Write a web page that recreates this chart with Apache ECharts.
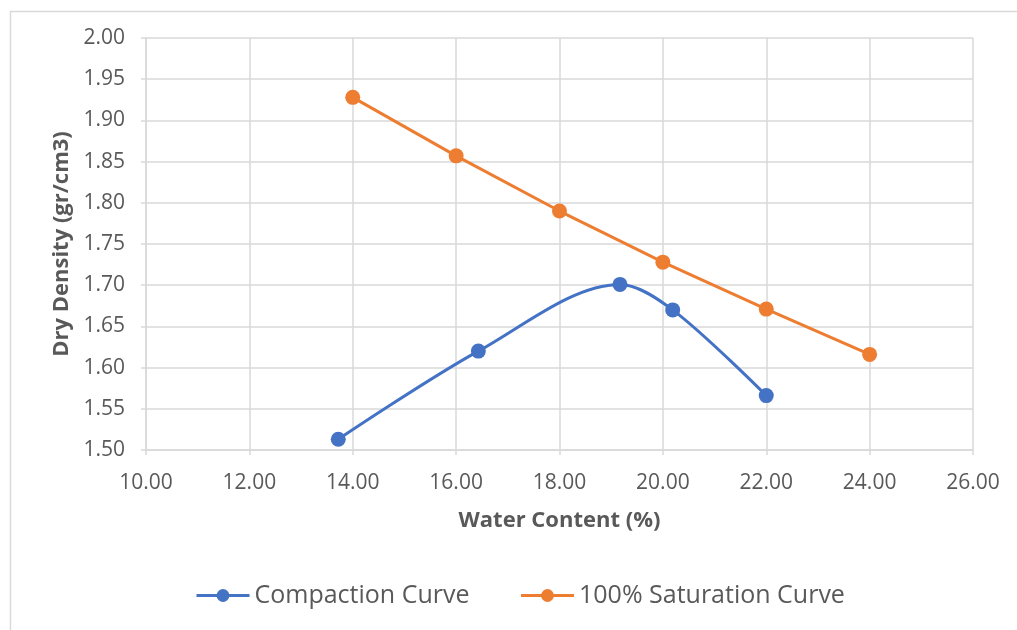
<!DOCTYPE html>
<html>
<head>
<meta charset="utf-8">
<script src="https://cdn.jsdelivr.net/npm/echarts@6/dist/echarts.min.js"></script>
<style>
  html, body { margin: 0; padding: 0; background: #ffffff; }
  #chart { width: 1017px; height: 630px; }
</style>
</head>
<body>
<div id="chart"></div>
<script>
// Compaction test results: water content (%) and dry density (gr/cm3)
const compactionWater = [13.72, 16.43, 19.17, 20.19, 22.0];
const compactionDensity = [1.513, 1.620, 1.701, 1.670, 1.566];

// Zero-air-voids (100% saturation) line
const saturationWater = [14, 16, 18, 20, 22, 24];
const saturationDensity = [1.928, 1.857, 1.790, 1.728, 1.671, 1.616];

const seriesNames = ['Compaction Curve', '100% Saturation Curve'];
const xTitle = 'Water Content (%)';
const yTitle = 'Dry Density (gr/cm3)';

const FONT = '"Open Sans", "Noto Sans", sans-serif';
const TEXT = '#595959';
const GRID = '#d9d9d9';

const pairs = (xs, ys) => xs.map((x, i) => [x, ys[i]]);

const chart = echarts.init(document.getElementById('chart'), null, { renderer: 'canvas' });

chart.setOption({
  backgroundColor: '#ffffff',
  animation: false,
  graphic: [{
    type: 'rect',
    left: 8, top: 9,
    shape: { x: 0, y: 0, width: 1200, height: 800 },
    style: { fill: 'none', stroke: GRID, lineWidth: 1.5 },
    silent: true
  }],
  grid: { left: 146, right: 44, top: 38, bottom: 180, containLabel: false },
  xAxis: {
    type: 'value',
    min: 10, max: 26, interval: 2,
    name: xTitle,
    nameLocation: 'middle',
    nameGap: 60,
    nameTextStyle: { color: TEXT, fontFamily: FONT, fontSize: 22, fontWeight: 'bold' },
    axisLine: { show: true, lineStyle: { color: GRID, width: 1.5 } },
    axisTick: { show: true, length: 5, lineStyle: { color: GRID, width: 1.5 } },
    axisLabel: { color: TEXT, fontFamily: FONT, fontSize: 21, margin: 23,
                 formatter: v => v.toFixed(2) },
    splitLine: { show: true, lineStyle: { color: GRID, width: 1.5 } }
  },
  yAxis: {
    type: 'value',
    min: 1.5, max: 2.0, interval: 0.05,
    name: yTitle,
    nameLocation: 'middle',
    nameRotate: 90,
    nameGap: 73,
    nameTextStyle: { color: TEXT, fontFamily: FONT, fontSize: 22, fontWeight: 'bold' },
    axisLine: { show: true, lineStyle: { color: GRID, width: 1.5 } },
    axisTick: { show: true, length: 5, lineStyle: { color: GRID, width: 1.5 } },
    axisLabel: { color: TEXT, fontFamily: FONT, fontSize: 21, margin: 21,
                 formatter: v => v.toFixed(2) },
    splitLine: { show: true, lineStyle: { color: GRID, width: 1.5 } }
  },
  legend: {
    left: 190, top: 578,
    itemWidth: 53, itemHeight: 16,
    itemGap: 50,
    textStyle: { color: TEXT, fontFamily: FONT, fontSize: 25 },
    lineStyle: { width: 3 },
    data: seriesNames
  },
  series: [
    {
      name: seriesNames[0],
      type: 'line',
      smooth: 0.33,
      data: pairs(compactionWater, compactionDensity),
      symbol: 'circle', symbolSize: 15,
      lineStyle: { color: '#4472C4', width: 3 },
      itemStyle: { color: '#4472C4' }
    },
    {
      name: seriesNames[1],
      type: 'line',
      data: pairs(saturationWater, saturationDensity),
      symbol: 'circle', symbolSize: 15,
      lineStyle: { color: '#ED7D31', width: 3 },
      itemStyle: { color: '#ED7D31' }
    }
  ]
});
</script>
</body>
</html>
